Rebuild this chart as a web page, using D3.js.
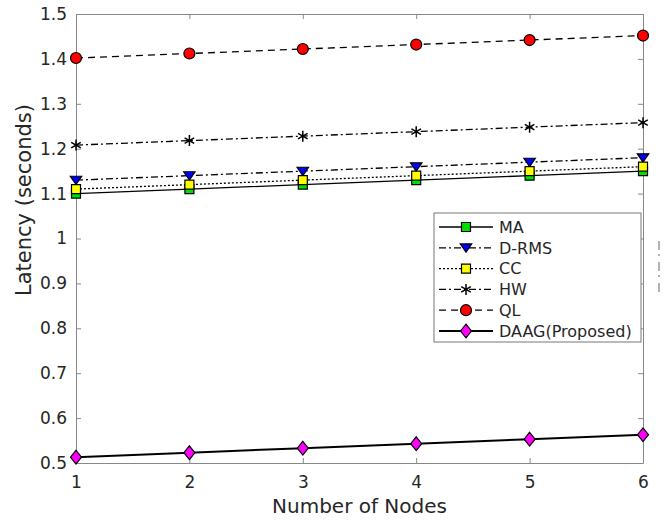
<!DOCTYPE html>
<html>
<head>
<meta charset="utf-8">
<script src="https://cdn.jsdelivr.net/npm/d3@7"></script>
<style>
  body { margin: 0; background: #fff; }
  text { font-family: "DejaVu Sans", sans-serif; fill: #262626; }
</style>
</head>
<body>
<div id="chart"></div>
<script>
// Data
const nodes = [1, 2, 3, 4, 5, 6];
const yTicks = [0.5, 0.6, 0.7, 0.8, 0.9, 1, 1.1, 1.2, 1.3, 1.4, 1.5];
const seriesNames = ["MA", "D-RMS", "CC", "HW", "QL", "DAAG(Proposed)"];
const ma   = [1.100, 1.110, 1.120, 1.130, 1.140, 1.150];
const drms = [1.130, 1.140, 1.150, 1.160, 1.170, 1.180];
const cc   = [1.110, 1.120, 1.130, 1.140, 1.150, 1.160];
const hw   = [1.208, 1.218, 1.228, 1.238, 1.248, 1.258];
const ql   = [1.402, 1.412, 1.422, 1.432, 1.442, 1.452];
const daag = [0.513, 0.523, 0.533, 0.543, 0.553, 0.563];

const W = 669, H = 520;
const margin = { top: 14, right: 26, bottom: 57, left: 76 },
      width = W - margin.left - margin.right,
      height = H - margin.top - margin.bottom;

const svg = d3.select("#chart")
    .append("svg")
    .attr("width", W)
    .attr("height", H);

const g = svg.append("g")
    .attr("transform", `translate(${margin.left},${margin.top})`);

const x = d3.scaleLinear().domain([1, 6]).range([0, width]);
const y = d3.scaleLinear().domain([0.5, 1.5]).range([height, 0]);

const axisColor = "#888";

// box + inward ticks on all four sides
function styleAxis(sel) {
    sel.select(".domain").attr("stroke", axisColor);
    sel.selectAll(".tick line").attr("stroke", axisColor);
    sel.selectAll(".tick text").attr("fill", "#262626").style("font-size", "17px");
}
g.append("g")
    .attr("transform", `translate(0,${height})`)
    .call(d3.axisBottom(x).tickValues(nodes).tickFormat(d3.format("d")).tickSizeInner(-5).tickSizeOuter(0).tickPadding(13))
    .call(styleAxis);
g.append("g")
    .call(d3.axisLeft(y).tickValues(yTicks).tickFormat(d => d3.format("")(d)).tickSizeInner(-5).tickSizeOuter(0).tickPadding(9))
    .call(styleAxis);
g.append("g")
    .call(d3.axisTop(x).tickValues(nodes).tickFormat("").tickSizeInner(-5).tickSizeOuter(0))
    .call(styleAxis);
g.append("g")
    .attr("transform", `translate(${width},0)`)
    .call(d3.axisRight(y).tickValues(yTicks).tickFormat("").tickSizeInner(-5).tickSizeOuter(0))
    .call(styleAxis);

// axis titles
g.append("text")
    .attr("x", width / 2)
    .attr("y", height + 50)
    .attr("text-anchor", "middle")
    .style("font-size", "20px")
    .text("Number of Nodes");
svg.append("text")
    .attr("transform", `translate(31,200) rotate(-90)`)
    .attr("text-anchor", "middle")
    .style("font-size", "21px")
    .text("Latency (seconds)");

// custom marker shapes (MATLAB-like proportions)
const downTriangle = {
    draw(ctx, r) { ctx.moveTo(-r * 1.1, -r * 0.75); ctx.lineTo(r * 1.1, -r * 0.75); ctx.lineTo(0, r * 0.85); ctx.closePath(); }
};
const diamond = {
    draw(ctx, r) { ctx.moveTo(0, -r * 1.25); ctx.lineTo(r, 0); ctx.lineTo(0, r * 1.25); ctx.lineTo(-r, 0); ctx.closePath(); }
};
const square = {
    draw(ctx, r) { ctx.rect(-r, -r, 2 * r, 2 * r); }
};
const circle = {
    draw(ctx, r) { ctx.moveTo(r, 0); ctx.arc(0, 0, r, 0, 2 * Math.PI); }
};
const asterisk = {
    draw(ctx, r) {
        ctx.moveTo(0, -r); ctx.lineTo(0, r);
        ctx.moveTo(-r * 0.87, -r * 0.5); ctx.lineTo(r * 0.87, r * 0.5);
        ctx.moveTo(-r * 0.87, r * 0.5); ctx.lineTo(r * 0.87, -r * 0.5);
    }
};

// series styles
const styles = [
    { values: ma,   dash: null,      width: 1.3, symbol: square,       size: 4.5, fill: "#00e000" },
    { values: drms, dash: "7,3,2,3", width: 1.3, symbol: downTriangle, size: 5.2, fill: "#0000ff" },
    { values: cc,   dash: "2,2",     width: 1.3, symbol: square,       size: 4.5, fill: "#ffff00" },
    { values: hw,   dash: "7,3,2,3", width: 1.3, symbol: asterisk,     size: 5.5, fill: "none" },
    { values: ql,   dash: "7,5",     width: 1.3, symbol: circle,       size: 5.5, fill: "#ff0000" },
    { values: daag, dash: null,      width: 2,   symbol: diamond,      size: 5.5, fill: "#ff00ff" }
];

const line = d3.line().x((d, i) => x(nodes[i])).y(d => y(d));

styles.forEach(s => {
    g.append("path")
        .datum(s.values)
        .attr("fill", "none")
        .attr("stroke", "#000")
        .attr("stroke-width", s.width)
        .attr("stroke-dasharray", s.dash)
        .attr("d", line);
});

function drawMarker(sel, s) {
    sel.append("path")
        .attr("d", d3.symbol(s.symbol, s.size)())
        .attr("fill", s.fill)
        .attr("stroke", "#000")
        .attr("stroke-width", s.symbol === asterisk ? 1.5 : 1.2);
}

styles.forEach(s => {
    s.values.forEach((v, i) => {
        const m = g.append("g").attr("transform", `translate(${x(nodes[i])},${y(v)})`);
        drawMarker(m, s);
    });
});

// legend
const legend = svg.append("g").attr("transform", "translate(434,213)");
legend.append("rect")
    .attr("width", 207)
    .attr("height", 129)
    .attr("fill", "#fff")
    .attr("stroke", "#777");

seriesNames.forEach((name, i) => {
    const s = styles[i];
    const ly = 14 + i * 20.8;
    legend.append("line")
        .attr("x1", 5).attr("x2", 59)
        .attr("y1", ly).attr("y2", ly)
        .attr("stroke", "#000")
        .attr("stroke-width", s.width)
        .attr("stroke-dasharray", s.dash);
    const m = legend.append("g").attr("transform", `translate(32,${ly})`);
    drawMarker(m, s);
    legend.append("text")
        .attr("x", 65)
        .attr("y", ly)
        .attr("dy", "0.36em")
        .style("font-size", "16px")
        .attr("fill", "#111")
        .text(name);
});

// faint clipped mark at the right edge
svg.append("line")
    .attr("x1", 659).attr("x2", 659)
    .attr("y1", 241).attr("y2", 292)
    .attr("stroke", "#999")
    .attr("stroke-width", 1.5)
    .attr("stroke-dasharray", "9,4,2,6");
</script>
</body>
</html>
